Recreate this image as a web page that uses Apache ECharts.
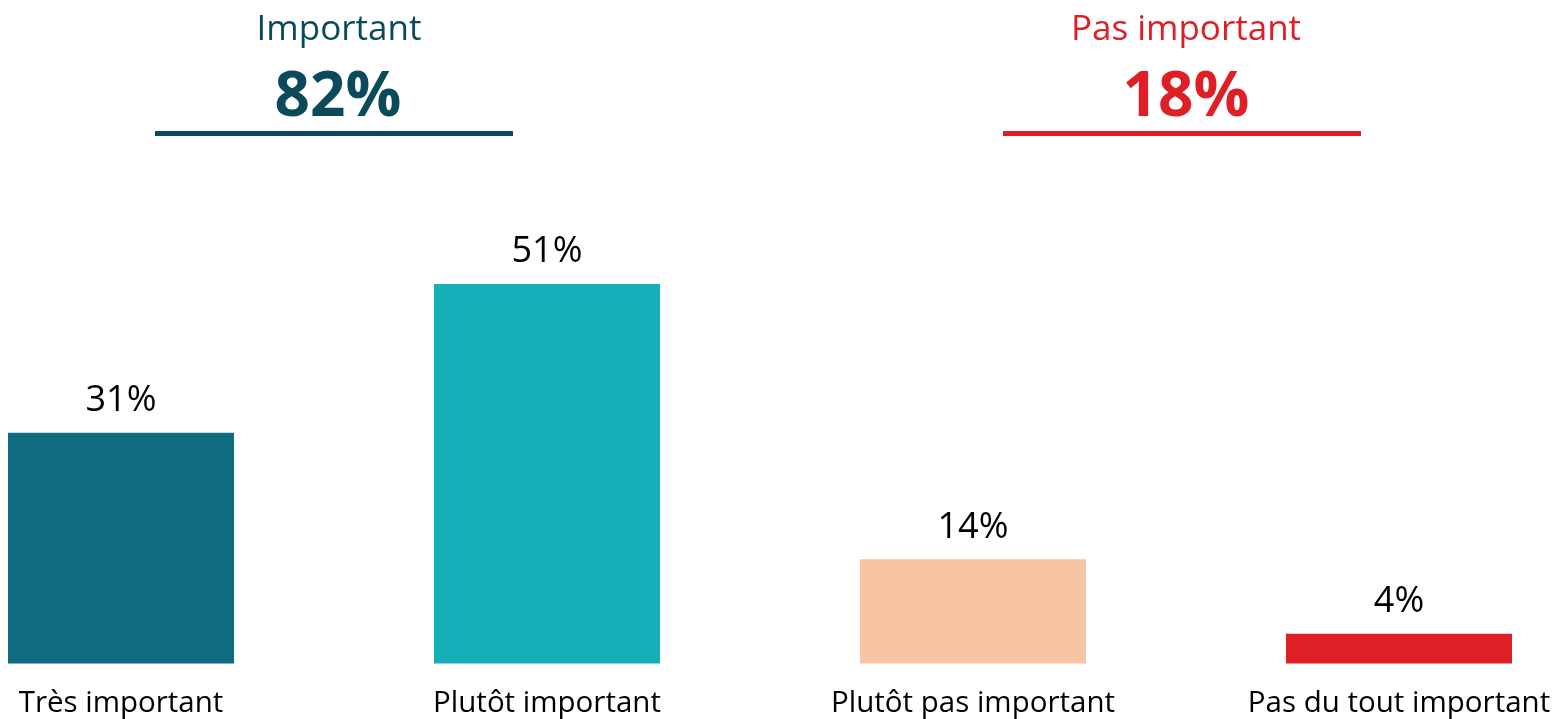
<!DOCTYPE html>
<html><head><meta charset="utf-8">
<script src="https://cdn.jsdelivr.net/npm/echarts@6/dist/echarts.min.js"></script>
<style>html,body{margin:0;padding:0;background:#fff}#c{width:1562px;height:719px}</style>
</head><body><div id="c"></div>
<script>
const categories = ['Très important', 'Plutôt important', 'Plutôt pas important', 'Pas du tout important'];
const values = [31, 51, 14, 4];
const barColors = ['#0F6B80', '#14AFB7', '#F7C4A3', '#DF1F26'];
const groupTitles = ['Important', 'Pas important'];
const groupTotals = ['82%', '18%'];
const groupColors = ['#0B4A5A', '#DF1F26'];

const FONT = '"Open Sans", "Noto Sans", sans-serif';
const chart = echarts.init(document.getElementById('c'), null, {renderer: 'canvas'});

const opt = {
  animation: false,
  grid: {left: 121, right: 163, top: 217, bottom: 55.5, containLabel: false, outerBoundsMode: 'none'},
  xAxis: {
    type: 'category', data: categories, boundaryGap: false,
    axisLine: {show: false}, axisTick: {show: false},
    axisLabel: {interval: 0, fontFamily: FONT, fontSize: 29.5, color: '#000', margin: 25}
  },
  yAxis: {type: 'value', min: 0, max: 60, show: false, splitLine: {show: false}},
  series: [{
    type: 'bar', barWidth: 226,
    data: values.map((v, i) => ({value: v, itemStyle: {color: barColors[i]}})),
    label: {show: true, position: 'top', distance: 14, formatter: '{c}%', fontFamily: FONT, fontSize: 36, color: '#000'}
  }],
  graphic: [
    {type: 'text', x: 339, y: 13, style: {text: groupTitles[0], fill: groupColors[0], font: '35px ' + FONT, align: 'center', verticalAlign: 'top'}},
    {type: 'text', x: 338, y: 67, style: {text: groupTotals[0], fill: groupColors[0], font: 'bold 62px ' + FONT, align: 'center', verticalAlign: 'top'}},
    {type: 'rect', shape: {x: 155, y: 131, width: 358, height: 5}, style: {fill: groupColors[0]}},
    {type: 'text', x: 1186, y: 13, style: {text: groupTitles[1], fill: groupColors[1], font: '35px ' + FONT, align: 'center', verticalAlign: 'top'}},
    {type: 'text', x: 1186, y: 67, style: {text: groupTotals[1], fill: groupColors[1], font: 'bold 62px ' + FONT, align: 'center', verticalAlign: 'top'}},
    {type: 'rect', shape: {x: 1003, y: 131, width: 358, height: 5}, style: {fill: groupColors[1]}}
  ]
};
chart.setOption(opt);
</script></body></html>
